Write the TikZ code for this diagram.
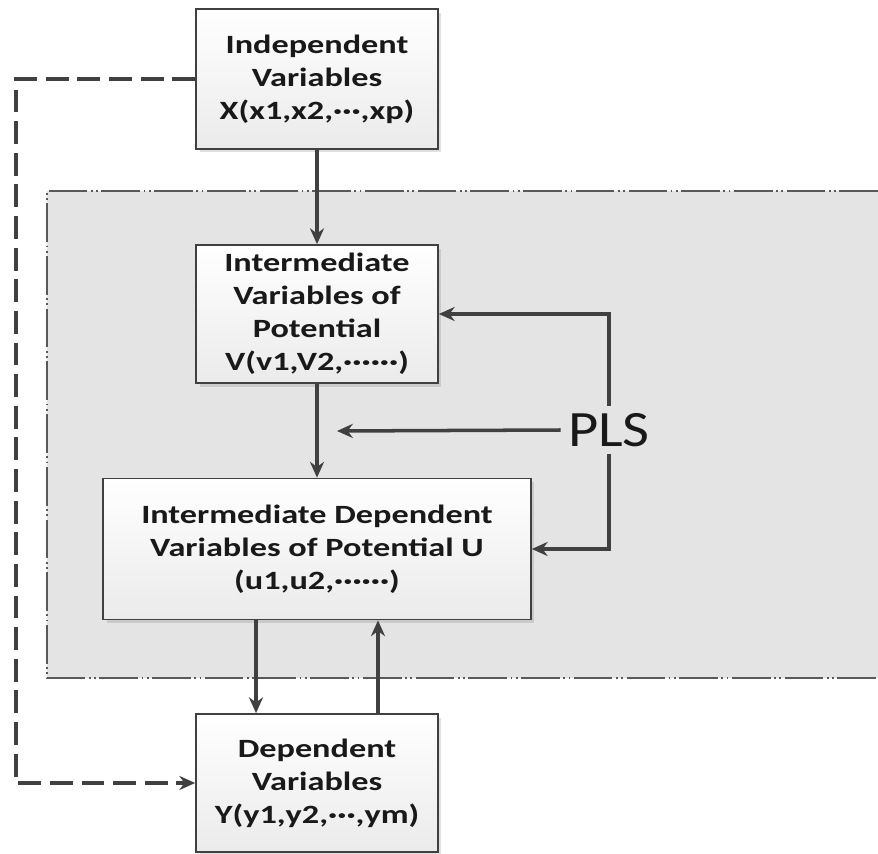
\documentclass[tikz,border=0pt]{standalone}
\usepackage{fontspec}
\setmainfont{Carlito}
\newfontfamily\boxfont[FakeStretch=1.3]{Carlito}
\newfontfamily\plsfont[FakeStretch=1.15]{Carlito}
\usepackage{tikz}
\usetikzlibrary{arrows.meta, positioning, calc, shadows}

\definecolor{linegray}{HTML}{404040}
\definecolor{regiongray}{HTML}{E4E4E4}

\begin{document}
\begin{tikzpicture}[x=0.02cm, y=-0.02cm,
    varbox/.style={draw=linegray, line width=1pt, top color=white,
      bottom color=black!8, align=center, text=black!90,
      font=\boxfont\bfseries\fontsize{15}{18.8}\selectfont,
      drop shadow={shadow xshift=2pt, shadow yshift=-2pt, opacity=0.25},
      minimum width=4.84cm, minimum height=2.8cm, inner sep=2pt},
    flow/.style={draw=linegray, line width=2pt,
      -{Stealth[length=9pt, width=8pt]}},
    feedback/.style={draw=linegray, line width=1.8pt,
      dash pattern=on 13pt off 5pt, -{Stealth[length=9pt, width=8pt]}},
  ]

    \useasboundingbox (0,0) rectangle (878,854);

    % Shaded PLS region
    \fill[regiongray] (47,191) rectangle (878,678);
    \draw[gray!70!black, line width=0.9pt,
      dash pattern=on 22pt off 2pt on 1pt off 2pt on 1pt off 2pt]
      (878,191) -- (47,191) -- (47,678) -- (878,678);

    % Variable boxes
    \node[varbox] (indep) at (317,79)
      {Independent\\Variables\\X(x1,x2,···,xp)};
    \node[varbox, minimum height=2.76cm] (interV) at (317,314)
      {Intermediate\\Variables of\\Potential\\V(v1,V2,······)};
    \node[varbox, minimum width=8.56cm, minimum height=2.82cm] (interU) at (317,549)
      {Intermediate Dependent\\Variables of Potential U\\(u1,u2,······)};
    \node[varbox, minimum height=2.76cm] (dep) at (317,783)
      {Dependent\\Variables\\Y(y1,y2,···,ym)};

    % PLS label
    \node[text=black!90, font=\plsfont\fontsize{29}{34}\selectfont,
      inner sep=4pt] (pls) at (609,430) {PLS};
    \coordinate (plsTip) at (337,431);
    \coordinate (loopX) at (16,431);

    % Main flow
    \draw[flow] (indep.south) -- (interV.north);
    \draw[flow] (interV.south) -- (interU.north);
    \draw[flow] ([xshift=-1.22cm]interU.south) -- ([xshift=-1.22cm]dep.north);
    \draw[flow, line width=2.6pt] ([xshift=1.22cm]dep.north) -- ([xshift=1.22cm]interU.south);

    % PLS links
    \draw[flow] (pls.west) -- (plsTip);
    \draw[flow] (pls.north) |- (interV.east);
    \draw[flow] (pls.south) |- (interU.east);

    % Dashed direct link
    \draw[feedback] (indep.west) -| (loopX) |- (dep.west);

\end{tikzpicture}
\end{document}
